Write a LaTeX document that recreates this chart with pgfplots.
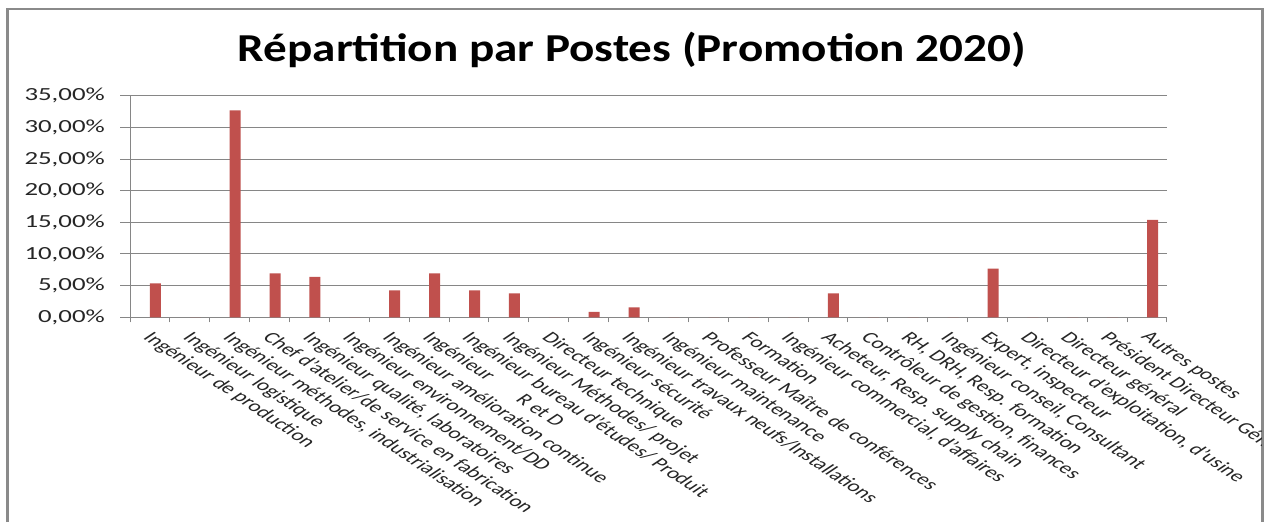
\documentclass[border=0pt]{standalone}
\usepackage{pgfplots}
\pgfplotsset{compat=1.18}
\usepackage{fontspec}
\setmainfont{Carlito}
\newfontfamily\ylabfont[FakeStretch=1.45]{Carlito}
\newfontfamily\titlefont[FakeStretch=1.19]{Carlito}
\definecolor{barred}{HTML}{C0504D}
\definecolor{axgray}{HTML}{868686}
\definecolor{framegray}{HTML}{8A8A8A}
\begin{document}
\begin{tikzpicture}
\useasboundingbox (0pt,0pt) rectangle (1265pt,522pt);
\fill[white] (0pt,0pt) rectangle (1265pt,522pt);
\draw[framegray, line width=2.5pt] (7.3pt,0pt) -- (7.3pt,513pt) -- (1262.5pt,513pt) -- (1262.5pt,0pt);
\node[anchor=base, inner sep=0pt, font=\titlefont\bfseries\fontsize{39.6}{44}\selectfont] at (632pt,460.3pt) {Répartition par Postes (Promotion 2020)};
\begin{scope}
\clip (8.6pt,0pt) rectangle (1261.2pt,511.7pt);
\begin{axis}[
  at={(130pt,204.7pt)}, anchor=south west,
  scale only axis, width=1037pt, height=221.6pt,
  xmin=0.5, xmax=26.5, ymin=0, ymax=35,
  axis x line*=bottom, axis y line*=left,
  axis line style={draw=axgray, line width=1pt},
  tick align=outside,
  major tick length=10pt,
  ytick={0,5,10,15,20,25,30,35},
  yticklabels={{0,00\%},{5,00\%},{10,00\%},{15,00\%},{20,00\%},{25,00\%},{30,00\%},{35,00\%}},
  yticklabel style={font=\ylabfont\fontsize{18.5}{20}\selectfont, anchor=east, inner sep=0pt, text=black!85, xshift=-15pt},
  ytick style={draw=axgray, line width=1pt},
  ymajorgrids, grid style={draw=axgray, line width=1pt},
  xtick={1,...,26},
  xtick style={draw=none},
  xticklabels={
    Ingénieur de production,
    Ingénieur logistique,
    {Ingénieur méthodes, industrialisation},
    Chef d'atelier/de service en fabrication,
    {Ingénieur qualité, laboratoires},
    Ingénieur environnement/DD,
    Ingénieur amélioration continue,
    Ingénieur\hspace{1.7em}R et D,
    Ingénieur bureau d'études/ Produit,
    Ingénieur Méthodes/ projet,
    Directeur technique,
    Ingénieur sécurité,
    Ingénieur travaux neufs/Installations,
    Ingénieur maintenance,
    Professeur Maître de conférences,
    Formation,
    {Ingénieur commercial, d'affaires},
    {Acheteur, Resp. supply chain},
    {Contrôleur de gestion, finances},
    {RH, DRH, Resp. formation},
    {Ingénieur conseil, Consultant},
    {Expert, inspecteur},
    {Directeur d'exploitation, d'usine},
    Directeur général,
    Président Directeur Général,
    Autres postes},
  xticklabel style={font=\fontsize{15.8}{18}\selectfont, text=black!85, anchor=north west, inner sep=0pt, xshift=4pt, yshift=-3pt, xscale=1.5, rotate=-45},
  extra x ticks={0.5,1.5,...,26.5},
  extra x tick labels={},
  extra x tick style={/pgfplots/major tick length=5pt, xtick style={draw=axgray, line width=1pt}, xmajorgrids=false},
  clip=false,
]
\addplot[ybar, bar width=11pt, bar shift=5.5pt, fill=barred, draw=none] coordinates {
  (1,5.37) (2,0) (3,32.7) (4,6.95) (5,6.4) (6,0) (7,4.26) (8,6.95) (9,4.26) (10,3.79)
  (11,0) (12,0.84) (13,1.58) (14,0) (15,0) (16,0) (17,0) (18,3.79) (19,0) (20,0)
  (21,0) (22,7.68) (23,0) (24,0) (25,0) (26,15.37)
};
\end{axis}
\end{scope}
\end{tikzpicture}
\end{document}
